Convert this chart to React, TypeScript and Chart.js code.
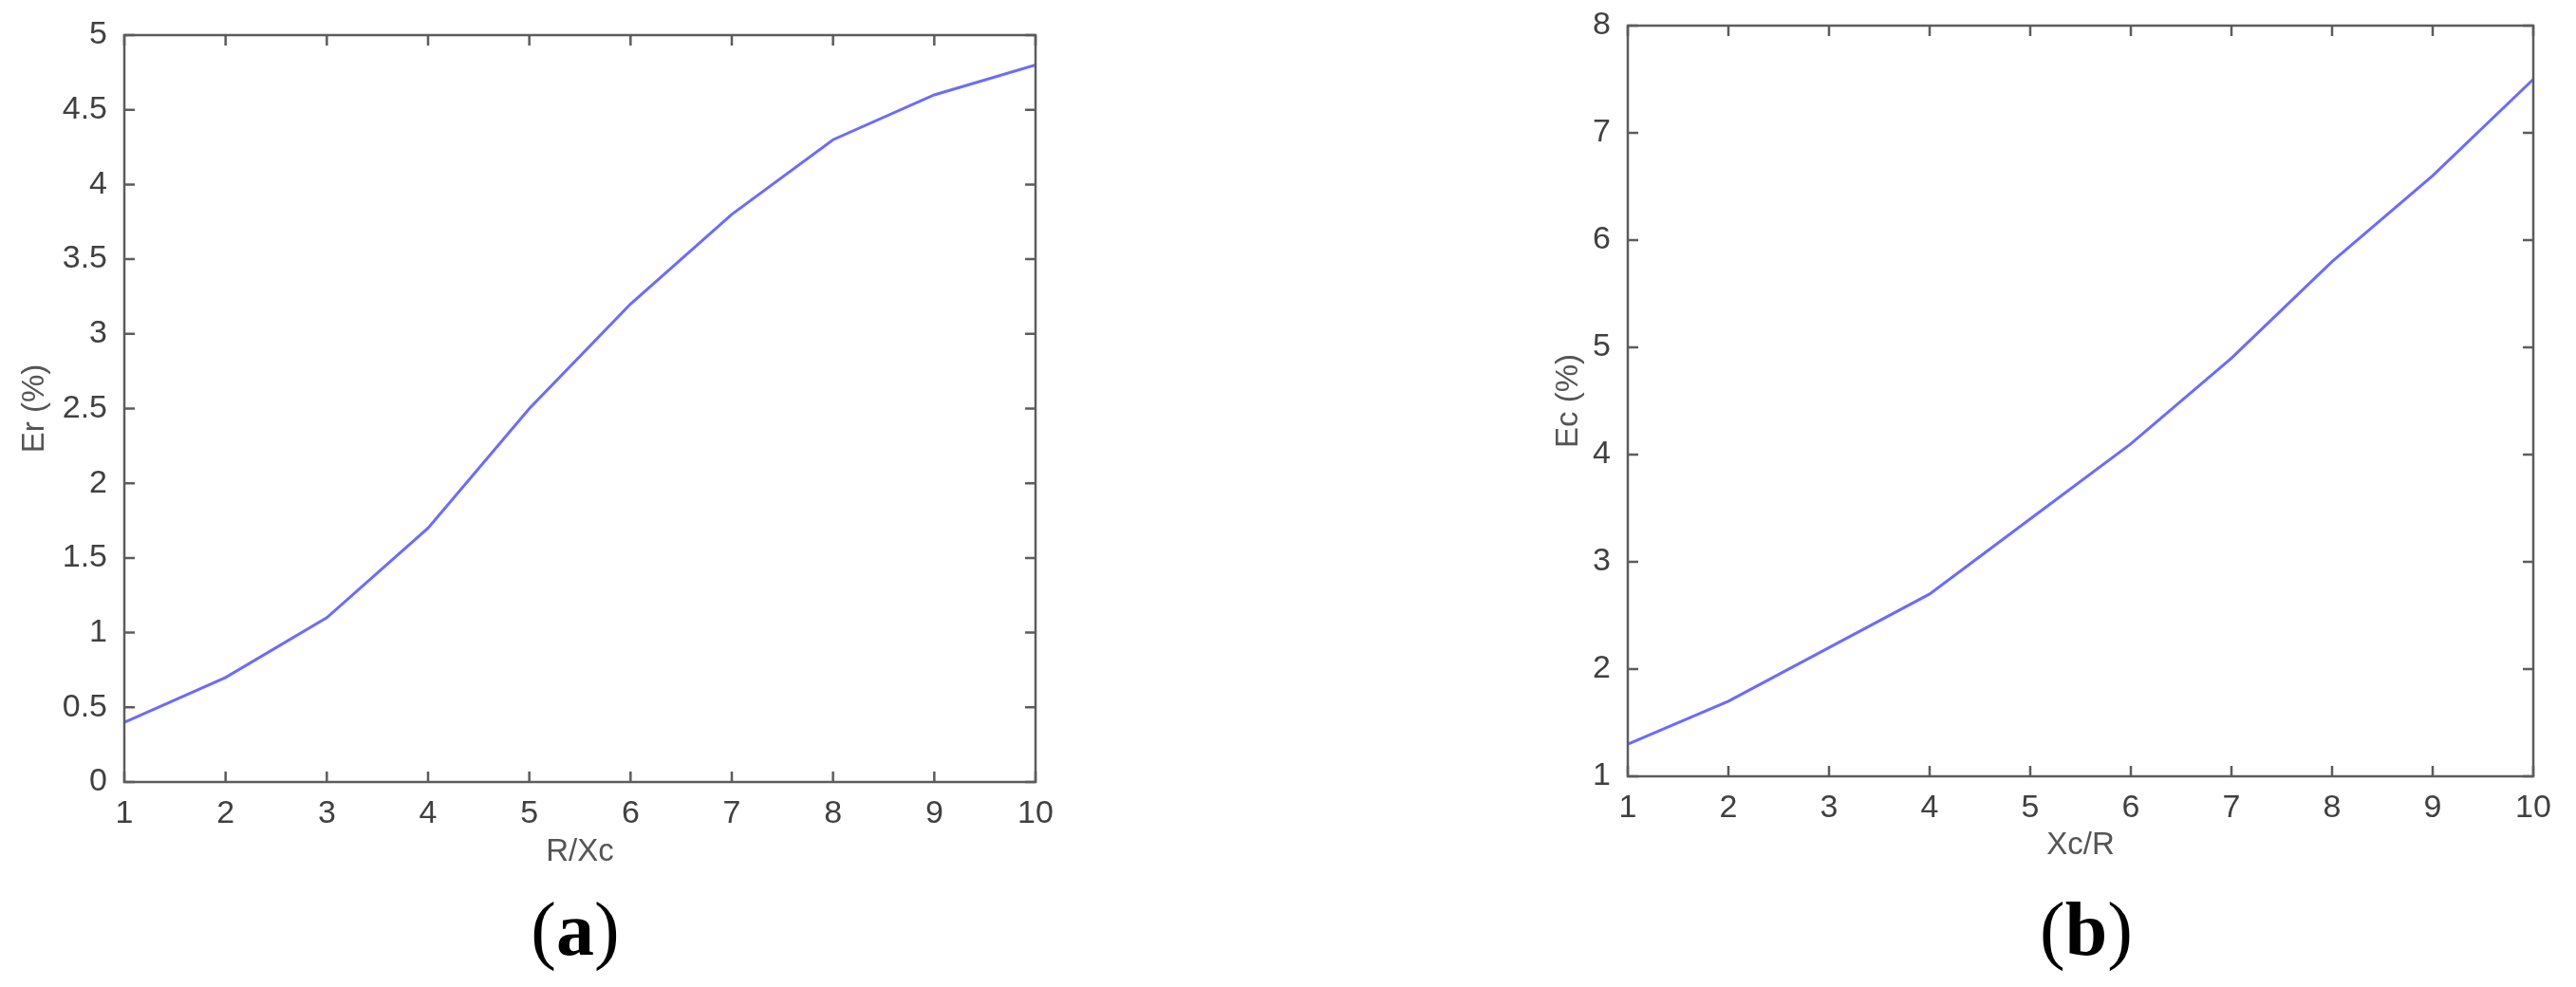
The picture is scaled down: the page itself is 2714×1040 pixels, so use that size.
import React, { useEffect, useRef } from "react";
import { Chart, registerables } from "chart.js";

Chart.register(...registerables);

// ---- data ----
const xValues = [1, 2, 3, 4, 5, 6, 7, 8, 9, 10];
const erValues = [0.4, 0.7, 1.1, 1.7, 2.5, 3.2, 3.8, 4.3, 4.6, 4.8];
const ecValues = [1.3, 1.7, 2.2, 2.7, 3.4, 4.1, 4.9, 5.8, 6.6, 7.5];
const xTickValues = [1, 2, 3, 4, 5, 6, 7, 8, 9, 10];
const erTickValues = [0, 0.5, 1, 1.5, 2, 2.5, 3, 3.5, 4, 4.5, 5];
const ecTickValues = [1, 2, 3, 4, 5, 6, 7, 8];

const LINE_COLOR = "#6b6bff";
const AXIS_COLOR = "#5c5c5c";
const TICK_TEXT = "#404040";
const TITLE_TEXT = "#555555";
const FONT = "'Liberation Sans', Arial, sans-serif";

const boxPlugin = {
  id: "matlabBox",
  afterDatasetsDraw(chart: any) {
    const { ctx, chartArea: a, scales } = chart;
    const x = scales.x;
    const y = scales.y;
    const L = 11;
    ctx.save();
    ctx.strokeStyle = AXIS_COLOR;
    ctx.lineWidth = 2.5;
    ctx.strokeRect(a.left, a.top, a.right - a.left, a.bottom - a.top);
    ctx.beginPath();
    x.ticks.forEach((t: any) => {
      const px = x.getPixelForValue(t.value);
      ctx.moveTo(px, a.bottom);
      ctx.lineTo(px, a.bottom - L);
      ctx.moveTo(px, a.top);
      ctx.lineTo(px, a.top + L);
    });
    y.ticks.forEach((t: any) => {
      const py = y.getPixelForValue(t.value);
      ctx.moveTo(a.left, py);
      ctx.lineTo(a.left + L, py);
      ctx.moveTo(a.right, py);
      ctx.lineTo(a.right - L, py);
    });
    ctx.stroke();
    ctx.restore();
  },
};

interface PanelProps {
  left: number;
  width: number;
  height: number;
  values: number[];
  yTicks: number[];
  yMin: number;
  yMax: number;
  xTitle: string;
  yTitle: string;
  padding: { left: number; right: number; top: number; bottom: number };
  yAxisWidth: number;
  xAxisHeight: number;
  yTitlePad: number;
  xTitlePadBottom: number;
}

function Panel(p: PanelProps) {
  const ref = useRef<HTMLCanvasElement | null>(null);
  useEffect(() => {
    if (!ref.current) return;
    const chart = new Chart(ref.current, {
      type: "line",
      data: {
        datasets: [
          {
            data: xValues.map((x, i) => ({ x, y: p.values[i] })),
            borderColor: LINE_COLOR,
            borderWidth: 3,
            pointRadius: 0,
            tension: 0,
            fill: false,
          },
        ],
      },
      options: {
        responsive: false,
        animation: false,
        layout: { padding: p.padding },
        plugins: { legend: { display: false }, tooltip: { enabled: false } },
        scales: {
          x: {
            type: "linear",
            min: 1,
            max: 10,
            grid: { display: false },
            border: { display: false },
            afterBuildTicks: (s: any) => {
              s.ticks = xTickValues.map((v) => ({ value: v }));
            },
            afterFit: (s: any) => {
              s.height = p.xAxisHeight;
            },
            ticks: {
              padding: 5,
              color: TICK_TEXT,
              font: { family: FONT, size: 34 },
              maxRotation: 0,
              autoSkip: false,
              callback: (v: any) => String(v),
            },
            title: {
              display: true,
              text: p.xTitle,
              color: TITLE_TEXT,
              font: { family: FONT, size: 33 },
              padding: { top: 0, bottom: p.xTitlePadBottom },
            },
          },
          y: {
            type: "linear",
            min: p.yMin,
            max: p.yMax,
            grid: { display: false },
            border: { display: false },
            afterBuildTicks: (s: any) => {
              s.ticks = p.yTicks.map((v) => ({ value: v }));
            },
            afterFit: (s: any) => {
              s.width = p.yAxisWidth;
            },
            ticks: {
              padding: 10,
              color: TICK_TEXT,
              font: { family: FONT, size: 34, lineHeight: 1 },
              autoSkip: false,
              callback: (v: any) => String(v),
            },
            title: {
              display: true,
              text: p.yTitle,
              color: TITLE_TEXT,
              font: { family: FONT, size: 33 },
              padding: { top: p.yTitlePad, bottom: 0 },
            },
          },
        },
      },
      plugins: [boxPlugin],
    } as any);
    return () => chart.destroy();
  }, []);
  return (
    <canvas
      ref={ref}
      width={p.width}
      height={p.height}
      style={{ position: "absolute", left: p.left, top: 0, width: p.width, height: p.height }}
    />
  );
}

function PanelLabel({ cx, letter }: { cx: number; letter: string }) {
  return (
    <div
      style={{
        position: "absolute",
        left: cx - 100,
        width: 200,
        top: 979 - 50,
        height: 100,
        lineHeight: "100px",
        textAlign: "center",
        fontFamily: "'Liberation Serif', 'Times New Roman', serif",
        fontSize: 80,
        color: "#000",
      }}
    >
      (<b>{letter}</b>)
    </div>
  );
}

export default function App() {
  return (
    <div
      style={{
        position: "absolute",
        left: 0,
        top: 0,
        width: 2714,
        height: 1040,
        background: "#fff",
        overflow: "hidden",
      }}
    >
      <Panel
        left={0}
        width={1357}
        height={920}
        values={erValues}
        yTicks={erTickValues}
        yMin={0}
        yMax={5}
        xTitle="R/Xc"
        yTitle="Er (%)"
        padding={{ left: 0, right: 1357 - 1091, top: 37, bottom: 0 }}
        yAxisWidth={131}
        xAxisHeight={920 - 824}
        yTitlePad={17}
        xTitlePadBottom={2}
      />
      <Panel
        left={1357}
        width={1357}
        height={920}
        values={ecValues}
        yTicks={ecTickValues}
        yMin={1}
        yMax={8}
        xTitle="Xc/R"
        yTitle="Ec (%)"
        padding={{ left: 258, right: 1357 - 1312, top: 20, bottom: 0 }}
        yAxisWidth={100}
        xAxisHeight={920 - 818}
        yTitlePad={18}
        xTitlePadBottom={9}
      />
      <PanelLabel cx={606} letter="a" />
      <PanelLabel cx={2198} letter="b" />
    </div>
  );
}
